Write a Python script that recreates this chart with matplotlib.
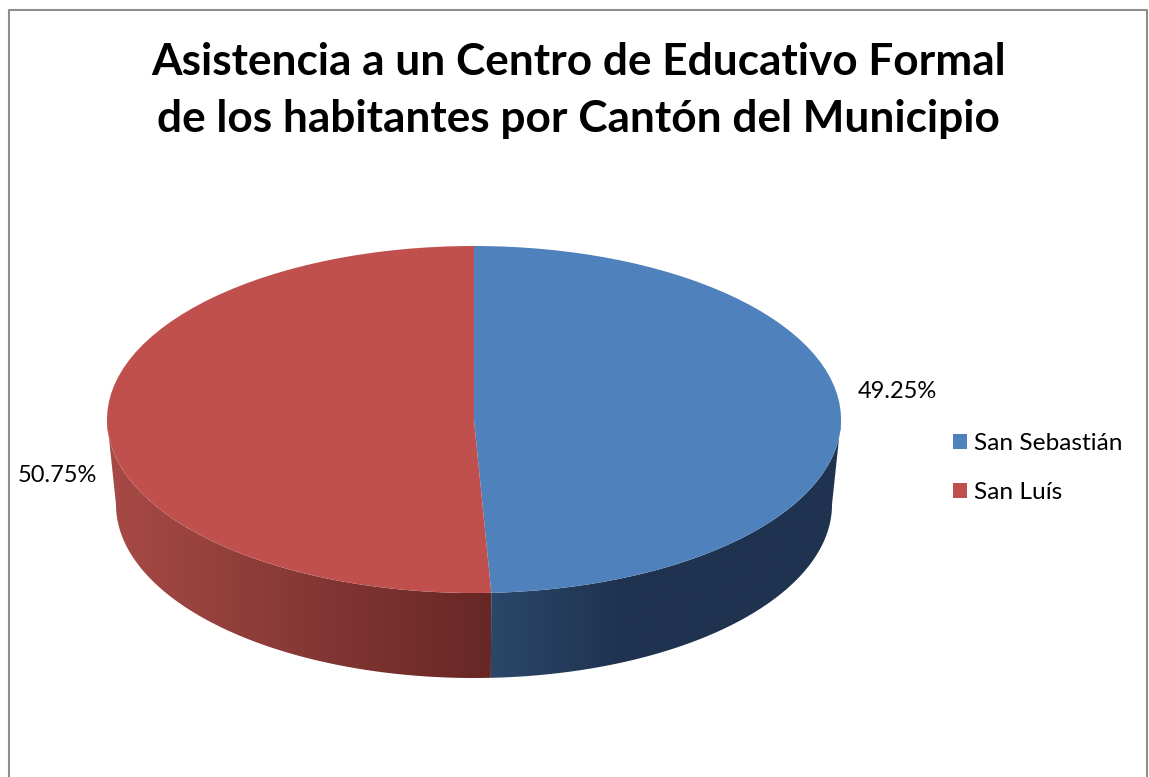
import matplotlib
matplotlib.use("Agg")
import matplotlib.pyplot as plt
from matplotlib.lines import Line2D
from matplotlib.patches import Polygon
from matplotlib.colors import to_rgb
import numpy as np

categories = ["San Sebastián", "San Luís"]
percentages = [49.25, 50.75]
title = "Asistencia a un Centro de Educativo Formal\nde los habitantes por Cantón del Municipio"

W, H = 1149, 777
plt.rcParams['font.family'] = ['Lato', 'DejaVu Sans']


def px_x(x):
    return x / W


def px_y(y):
    return 1 - y / H


def draw_wall(ax, start, end, depth, shrink, c_left, c_right, x_left, x_right):
    # side of the disc: polygon between top rim and the narrower bottom rim, filled with a gradient
    a = np.radians(np.linspace(start, end, 300))
    top = np.column_stack([np.cos(a), np.sin(a)])
    bottom = np.column_stack([shrink * np.cos(a), np.sin(a) - depth])
    poly = Polygon(np.vstack([top, bottom[::-1]]), closed=True, transform=ax.transData,
                   fc="none", ec="none")
    ax.add_patch(poly)

    x0, x1 = np.cos(a[0]), np.cos(a[-1])
    t = np.clip((np.linspace(x0, x1, 512) - x_left) / (x_right - x_left), 0, 1)
    grad = np.outer(1 - t, to_rgb(c_left)) + np.outer(t, to_rgb(c_right))
    im = ax.imshow(grad[np.newaxis, :, :], extent=(x0, x1, -1 - depth, 0.1), aspect="auto",
                   interpolation="bilinear", zorder=1)
    im.set_clip_path(poly)


def main():
    fig = plt.figure(figsize=(W / 100, H / 100), dpi=100, facecolor="white")

    # chart border, runs off the bottom of the image
    xb = [px_x(8.5), px_x(8.5), px_x(1146.5), px_x(1146.5)]
    yb = [0, px_y(9.5), px_y(9.5), 0]
    fig.add_artist(Line2D(xb, yb, color="#8e8e8e", lw=1.5))

    # axes sized so radius 1 is 367 x 173.5 px, pie centre at (474, 419.5)
    rx, ry = 367, 173.5
    cx, cy = 474, 419.5
    ylo, yhi = -1.7, 1.25
    ax = fig.add_axes([px_x(cx - 1.25 * rx), px_y(cy - ylo * ry),
                       2.5 * rx / W, (yhi - ylo) * ry / H])
    wedges, _ = ax.pie(percentages, colors=["#4f81bd", "#c0504d"], startangle=90,
                       counterclock=False, radius=1, wedgeprops={"zorder": 3, "lw": 0})

    split = 90 - 360 * percentages[0] / sum(percentages)
    split_x = np.cos(np.radians(split))
    depth = 85 / ry
    shrink = 358 / rx
    draw_wall(ax, -180, split, depth, shrink, "#a84a46", "#662725", -1, split_x)
    draw_wall(ax, split, 0, depth, shrink, "#2b4769", "#1f3350", split_x, 0.4)

    ax.set_aspect("auto")
    ax.set_xlim(-1.25, 1.25)
    ax.set_ylim(ylo, yhi)

    fig.text(px_x(578.5), px_y(90.5), title, ha="center", va="center", fontsize=31.8,
             fontweight="bold", color="black", linespacing=1.5)
    fig.text(px_x(897.5), px_y(391), f"{percentages[0]:.2f}%", ha="center", va="center",
             fontsize=17, color="black")
    fig.text(px_x(57), px_y(475), f"{percentages[1]:.2f}%", ha="center", va="center",
             fontsize=17, color="black")

    fig.legend(wedges, categories, loc="center left",
               bbox_to_anchor=(px_x(953), px_y(468)), frameon=False, fontsize=17.6,
               handlelength=0.58, handleheight=0.58, handletextpad=0.27,
               labelspacing=1.13, borderpad=0, borderaxespad=0)

    fig.savefig("out.png", dpi=100, facecolor="white")


if __name__ == '__main__':
    main()
